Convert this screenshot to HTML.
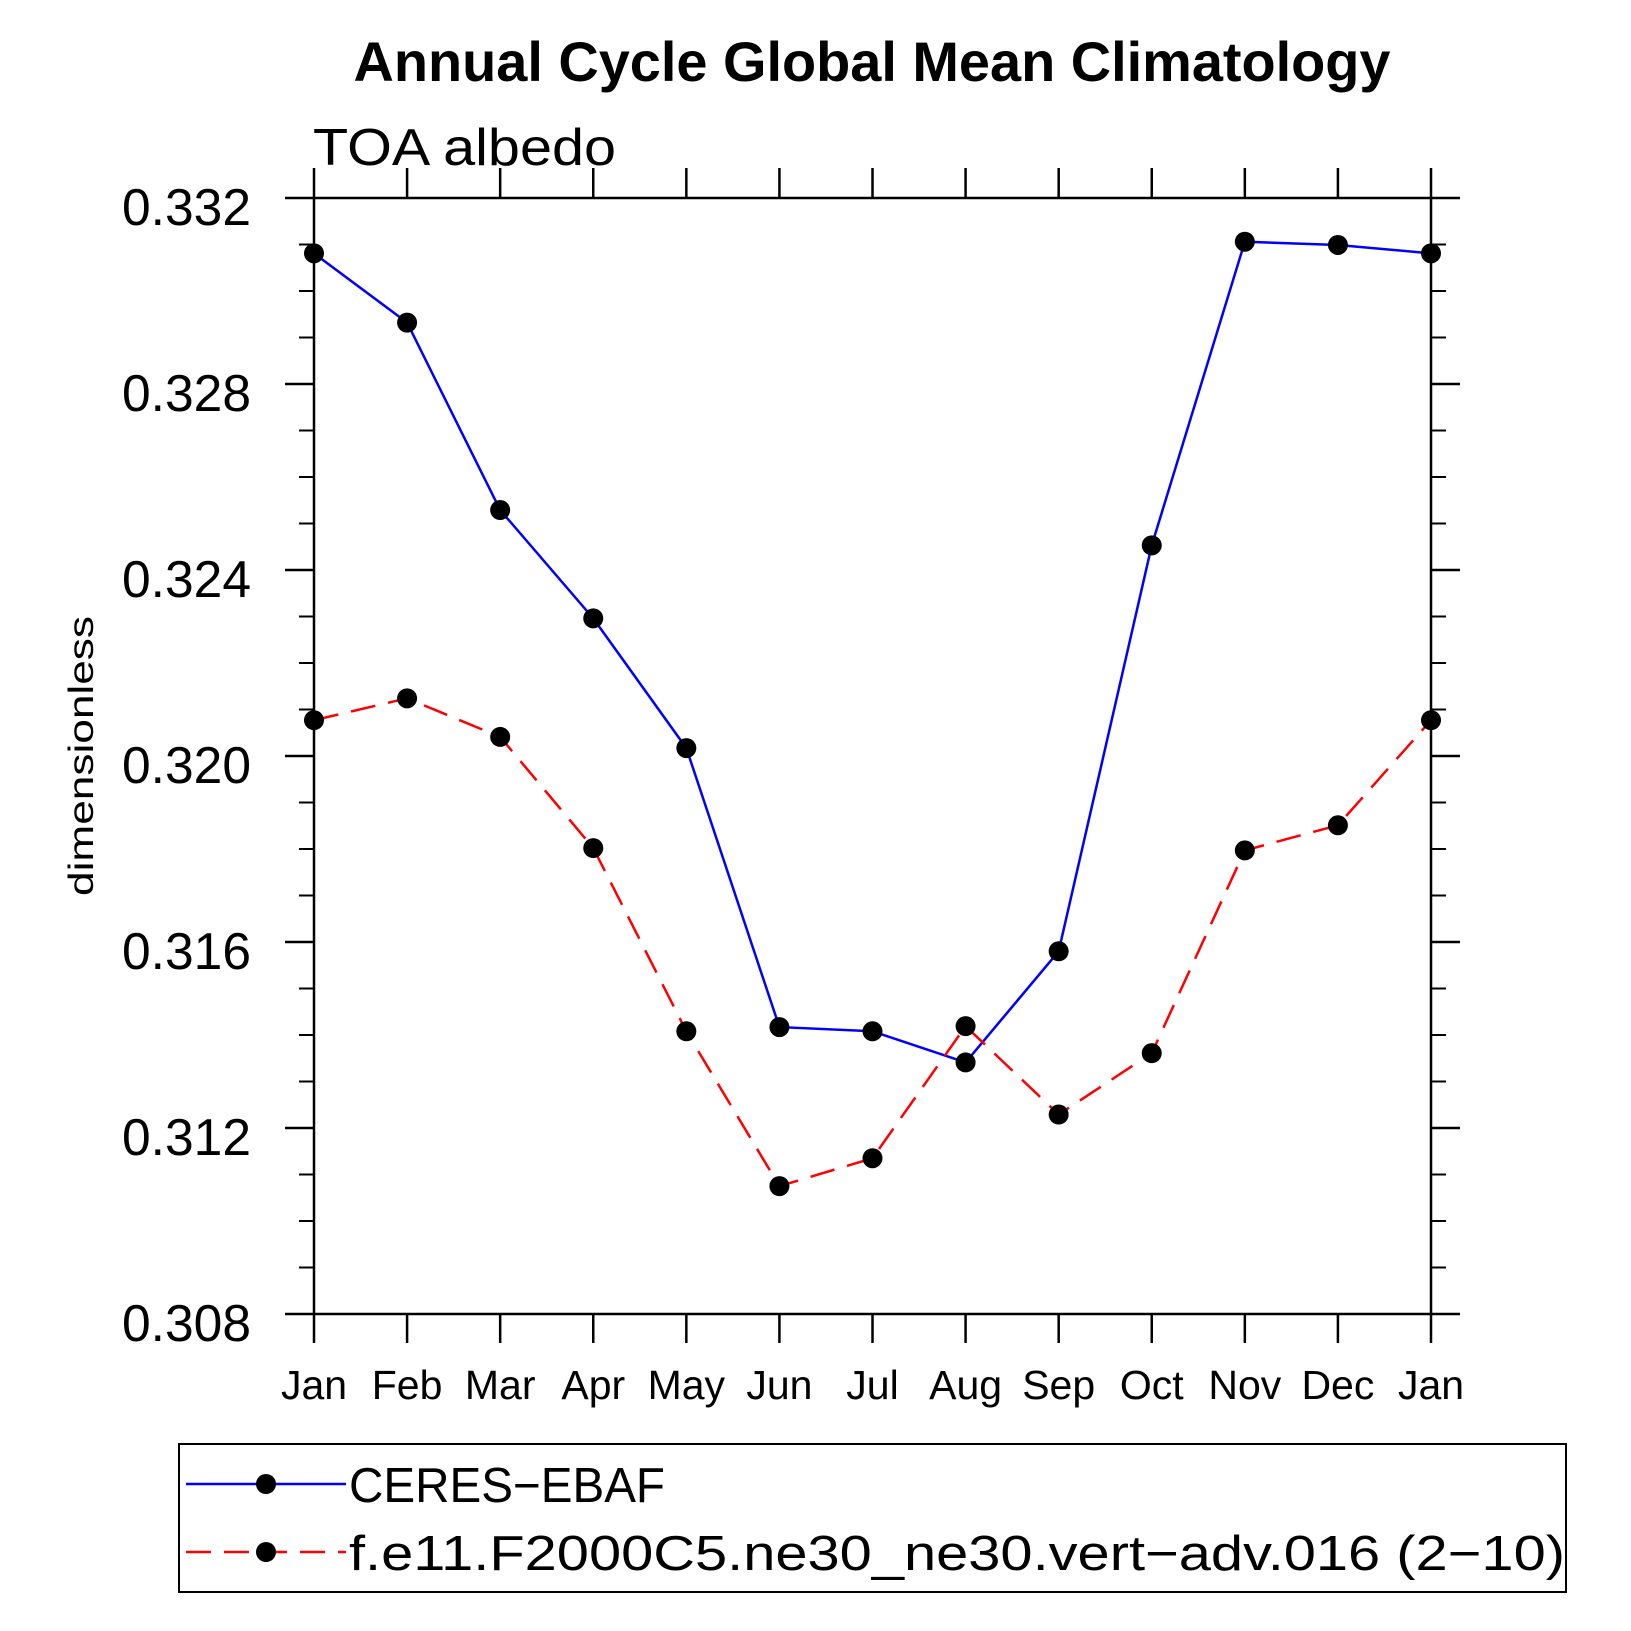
<!DOCTYPE html>
<html><head><meta charset="utf-8"><style>
html,body{margin:0;padding:0;background:#fff;}
svg{display:block;}
text{font-family:"Liberation Sans",sans-serif;fill:#000;}
</style></head><body>
<svg id="chart" width="1631" height="1631" viewBox="0 0 1631 1631">
<text x="872" y="81" text-anchor="middle" font-size="56" font-weight="bold" textLength="1037" lengthAdjust="spacingAndGlyphs">Annual Cycle Global Mean Climatology</text>
<text x="313" y="165" font-size="52" textLength="303" lengthAdjust="spacingAndGlyphs">TOA  albedo</text>
<text transform="translate(93,756) rotate(-90)" text-anchor="middle" font-size="35" textLength="280" lengthAdjust="spacingAndGlyphs">dimensionless</text>
<g id="axes"></g>
<g id="series"></g>
<g>
<rect x="179" y="1444" width="1387" height="148" fill="none" stroke="#000" stroke-width="2"/>
<line x1="186" y1="1484" x2="346" y2="1484" stroke="#0000ff" stroke-width="2.5"/>
<circle cx="266" cy="1484" r="10" fill="#000"/>
<text x="349" y="1502" font-size="49" textLength="316" lengthAdjust="spacingAndGlyphs">CERES−EBAF</text>
<line x1="186" y1="1552" x2="346" y2="1552" stroke="#ff0000" stroke-width="2.5" stroke-dasharray="25,13"/>
<circle cx="266" cy="1552" r="10" fill="#000"/>
<text x="349" y="1570" font-size="49" textLength="1216" lengthAdjust="spacingAndGlyphs">f.e11.F2000C5.ne30_ne30.vert−adv.016 (2−10)</text>
</g>
</svg>
<script>
const months = ["Jan","Feb","Mar","Apr","May","Jun","Jul","Aug","Sep","Oct","Nov","Dec","Jan"];
const ceres = [0.33081,0.32932,0.32529,0.32296,0.32017,0.31417,0.31408,0.31341,0.31580,0.32453,0.33106,0.33099,0.33081];
const model = [0.32077,0.32124,0.32041,0.31802,0.31408,0.31075,0.31135,0.31419,0.31229,0.31361,0.31797,0.31851,0.32077];
const yTicks = [0.308,0.312,0.316,0.320,0.324,0.328,0.332];
const yTickLabels = ["0.308","0.312","0.316","0.320","0.324","0.328","0.332"];
const yMin = 0.308, yMax = 0.332, yMinorStep = 0.001;

const NS = "http://www.w3.org/2000/svg";
const L = 314, R = 1431, T = 198, B = 1314;
const xs = i => L + (R - L) * i / (months.length - 1);
const ys = v => B - (B - T) * (v - yMin) / (yMax - yMin);
function mk(tag, attrs, parent) {
  const el = document.createElementNS(NS, tag);
  for (const k in attrs) el.setAttribute(k, attrs[k]);
  parent.appendChild(el);
  return el;
}
const axes = document.getElementById('axes');
const frame = mk('rect', {x:L, y:T, width:R-L, height:B-T, fill:'none', stroke:'#000', 'stroke-width':2.5}, axes);


const nMinor = Math.round((yMax - yMin) / yMinorStep);
for (let k = 0; k <= nMinor; k++) {
  const y = ys(yMin + k * yMinorStep);
  const l1 = mk('line', {x1:L-15, y1:y, x2:L, y2:y, stroke:'#000', 'stroke-width':2}, axes);
  
  
  const l2 = mk('line', {x1:R, y1:y, x2:R+15, y2:y, stroke:'#000', 'stroke-width':2}, axes);
  
  
}
yTicks.forEach((v, i) => {
  const y = ys(v);
  const l1 = mk('line', {x1:L-29, y1:y, x2:L, y2:y, stroke:'#000', 'stroke-width':2.5}, axes);
  
  
  const l2 = mk('line', {x1:R, y1:y, x2:R+29, y2:y, stroke:'#000', 'stroke-width':2.5}, axes);
  
  
  const t = mk('text', {x:251, y:y+27, 'text-anchor':'end', 'font-size':52, textLength:129, lengthAdjust:'spacingAndGlyphs'}, axes);
  t.textContent = yTickLabels[i];
  
  
});
months.forEach((m, i) => {
  const x = xs(i);
  const b = mk('line', {x1:x, y1:B, x2:x, y2:B+29, stroke:'#000', 'stroke-width':2.5}, axes);
  
  
  const tp = mk('line', {x1:x, y1:T-30, x2:x, y2:T, stroke:'#000', 'stroke-width':2.5}, axes);
  
  
  const t = mk('text', {x:x, y:1399, 'text-anchor':'middle', 'font-size':41}, axes);
  t.textContent = m;
  
  
});
const g = document.getElementById('series');
function drawSeries(vals, color, dash, name) {
  const pts = vals.map((v, i) => xs(i) + ',' + ys(v)).join(' ');
  const attrs = {points:pts, fill:'none', stroke:color, 'stroke-width':2.5};
  if (dash) attrs['stroke-dasharray'] = dash;
  const pl = mk('polyline', attrs, g);
  
  
  vals.forEach((v, i) => {
    const c = mk('circle', {cx:xs(i), cy:ys(v), r:10, fill:'#000'}, g);
    
    
  });
}
drawSeries(ceres, '#0000ff', null, 'ceres-ebaf');
drawSeries(model, '#ff0000', '25,13', 'model');
</script>
</body></html>
